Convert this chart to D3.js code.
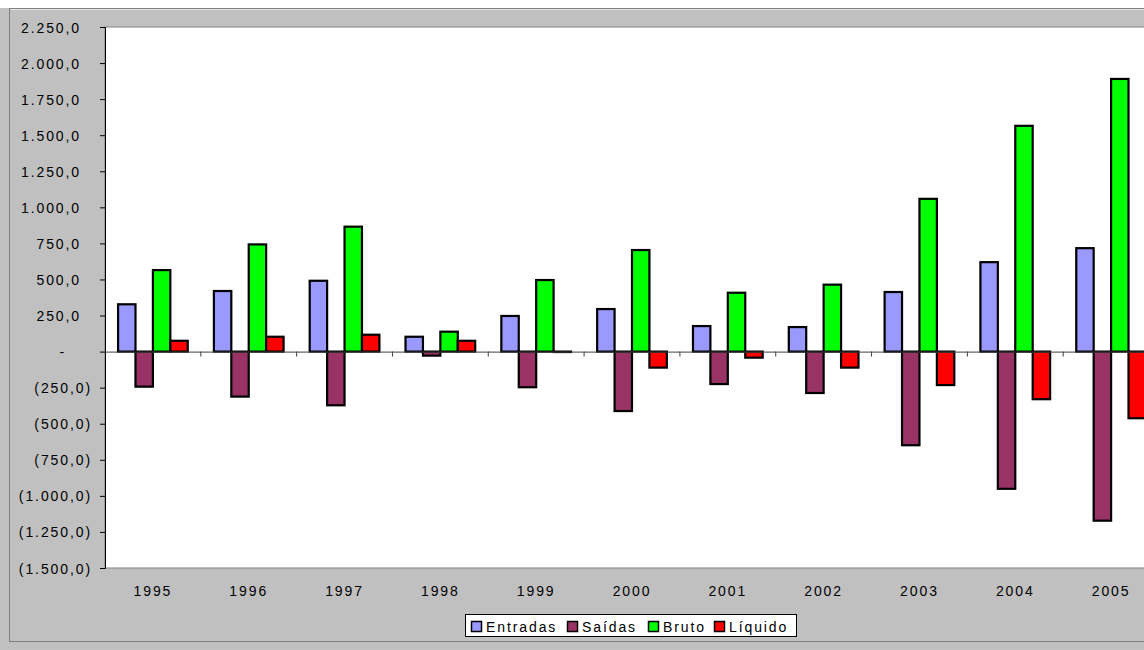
<!DOCTYPE html>
<html>
<head>
<meta charset="utf-8">
<script src="https://cdn.jsdelivr.net/npm/d3@7"></script>
<style>
  html, body { margin: 0; padding: 0; background: #c0c0c0; }
  svg { display: block; }
  text { font-family: "Liberation Sans", Arial, sans-serif; fill: #000; }
</style>
</head>
<body>
<svg id="chart" width="1144" height="650"></svg>
<script>
const years   = ['1995','1996','1997','1998','1999','2000','2001','2002','2003','2004','2005'];
const seriesNames = ['Entradas','Saídas','Bruto','Líquido'];
const entradas = [328, 420, 491, 103, 247, 295, 177, 170, 413, 620, 717];
const saidas   = [-243, -312, -372, -28, -247, -412, -225, -287, -649, -951, -1172];
const bruto    = [565, 743, 866, 138, 496, 704, 408, 464, 1059, 1565, 1890];
const liquido  = [75, 103, 117, 75, -3, -111, -42, -111, -232, -330, -462];
const yTicks   = [-1500,-1250,-1000,-750,-500,-250,0,250,500,750,1000,1250,1500,1750,2000,2250];
const colors   = ['#9999FF','#993366','#00FF00','#FF0000'];

const seriesValues = [entradas, saidas, bruto, liquido];

const svg = d3.select('#chart');
const W = 1144, H = 650;

svg.append('rect').attr('x',0).attr('y',0).attr('width',W).attr('height',H).attr('fill','#c0c0c0');
svg.append('rect').attr('x',0).attr('y',0).attr('width',W).attr('height',8).attr('fill','#ffffff');
svg.append('rect').attr('x',9.5).attr('y',8.5).attr('width',W+20).attr('height',633)
  .attr('fill','#c0c0c0').attr('stroke','#808080').attr('stroke-width',1);
svg.append('line').attr('x1',10.5).attr('x2',W).attr('y1',9.5).attr('y2',9.5).attr('stroke','#e8e8e8');

const plot = {left:105, top:27, right:1159, bottom:568};

const x = d3.scaleBand().domain(years).range([plot.left, plot.right])
  .paddingInner(1.5/5.5).paddingOuter(0.75/5.5);
const xs = d3.scaleBand().domain(seriesNames).range([0, x.bandwidth()]).padding(0);
const y = d3.scaleLinear().domain([-1500, 2250]).range([plot.bottom, plot.top]);

svg.append('rect').attr('x',plot.left).attr('y',plot.top)
  .attr('width',plot.right-plot.left).attr('height',plot.bottom-plot.top)
  .attr('fill','#ffffff').attr('stroke','#808080').attr('stroke-width',1);

const loc = d3.formatLocale({decimal:',', thousands:'.', grouping:[3], currency:['','']});
const f = loc.format(',.1f');
const yLab = v => v === 0 ? '-' : (v < 0 ? '(' + f(-v) + ')' : f(v));

const yAxis = d3.axisLeft(y).tickValues(yTicks).tickSize(5).tickFormat(yLab);
const gy = svg.append('g').attr('transform',`translate(${plot.left},0)`).call(yAxis);
gy.select('.domain').attr('stroke','#000');
gy.selectAll('.tick line').attr('stroke','#000');
gy.selectAll('.tick text')
  .style('font-family','"Liberation Sans", Arial, sans-serif')
  .style('font-size','14px').style('letter-spacing','1.9px').attr('fill','#000')
  .attr('x', d => d === 0 ? -39 : (d < 0 ? -13 : -24))
  .attr('dy','0.36em');

const groups = svg.append('g').selectAll('g').data(years).join('g')
  .attr('transform', d => `translate(${x(d)},0)`);
groups.selectAll('rect')
  .data((d,i) => seriesNames.map((s,j) => ({s, j, v: seriesValues[j][i]})))
  .join('rect')
  .attr('x', d => xs(d.s))
  .attr('width', xs.bandwidth())
  .attr('y', d => y(Math.max(0, d.v)))
  .attr('height', d => Math.abs(y(d.v) - y(0)))
  .attr('fill', d => colors[d.j])
  .attr('stroke','#000').attr('stroke-width',2.2);

svg.append('line').attr('x1',plot.left).attr('x2',plot.right)
  .attr('y1',y(0)+0.5).attr('y2',y(0)+0.5).attr('stroke','#404040').attr('stroke-width',1);
const step = x.step();
svg.append('g').selectAll('line').data(years.slice(1)).join('line')
  .attr('x1', d => x(d) - x.paddingOuter()*step).attr('x2', d => x(d) - x.paddingOuter()*step)
  .attr('y1', y(0)).attr('y2', y(0)+5).attr('stroke','#404040');

svg.append('g').selectAll('text').data(years).join('text')
  .attr('x', d => x(d) + x.bandwidth()/2)
  .attr('y', 596)
  .attr('text-anchor','middle')
  .style('font-size','14px').style('letter-spacing','1.9px')
  .text(d => d);

const lg = svg.append('g');
lg.append('rect').attr('x',465.5).attr('y',614.5).attr('width',331).attr('height',22)
  .attr('fill','#fff').attr('stroke','#000').attr('stroke-width',1);
const legX = [471, 567, 648, 714];
seriesNames.forEach((s,i) => {
  lg.append('rect').attr('x',legX[i]+0.5).attr('y',621.5).attr('width',10).attr('height',10)
    .attr('fill',colors[i]).attr('stroke','#000').attr('stroke-width',1.5);
  lg.append('text').attr('x',legX[i]+15).attr('y',631.5)
    .style('font-size','14px').style('letter-spacing','1.9px').text(s);
});
</script>
</body>
</html>
